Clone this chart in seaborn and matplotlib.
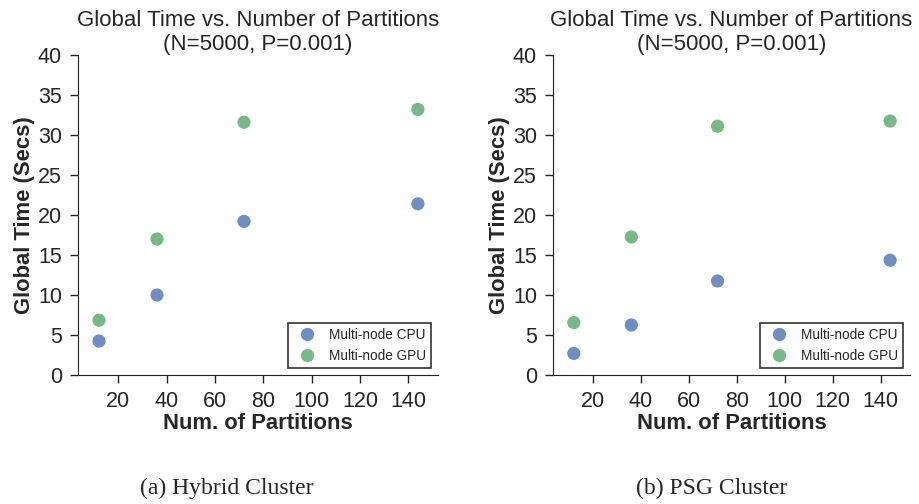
import matplotlib
matplotlib.use("Agg")
import matplotlib.pyplot as plt
import seaborn as sns
import pandas as pd

partitions = [12, 36, 72, 144]
hybrid_cpu = [4.25, 10.0, 19.2, 21.4]
hybrid_gpu = [6.85, 17.0, 31.6, 33.2]
psg_cpu = [2.7, 6.25, 11.75, 14.35]
psg_gpu = [6.55, 17.25, 31.1, 31.75]
series_names = ["Multi-node CPU", "Multi-node GPU"]
captions = ["(a) Hybrid Cluster", "(b) PSG Cluster"]
title = "Global Time vs. Number of Partitions\n(N=5000, P=0.001)"

sns.set_style("ticks")
plt.rcParams['font.family'] = ['Liberation Sans', 'DejaVu Sans']

palette = {series_names[0]: "#4C72B0", series_names[1]: "#55A868"}

fig = plt.figure(figsize=(9.19, 5.04), dpi=100)
axes = [fig.add_axes([78/919, 129/504, 360/919, 320/504]),
        fig.add_axes([553/919, 129/504, 357/919, 320/504])]

datasets = [(hybrid_cpu, hybrid_gpu), (psg_cpu, psg_gpu)]
for ax, (cpu, gpu), cap in zip(axes, datasets, captions):
    df = pd.DataFrame({
        "x": partitions + partitions,
        "y": cpu + gpu,
        "series": [series_names[0]] * len(partitions) + [series_names[1]] * len(partitions),
    })
    sns.scatterplot(data=df, x="x", y="y", hue="series", palette=palette,
                    s=90, alpha=0.8, edgecolor="none", ax=ax)
    ax.set_xlim(3.3, 152.3)
    ax.set_ylim(0, 40)
    ax.set_xticks([20, 40, 60, 80, 100, 120, 140])
    ax.set_yticks(range(0, 41, 5))
    ax.tick_params(labelsize=15.5, length=6, width=1, pad=5.5, direction="out")
    for sp in ["left", "bottom"]:
        ax.spines[sp].set_color("#222222")
    ax.set_xlabel("Num. of Partitions", fontsize=15.8, fontweight="bold", labelpad=1)
    ax.set_ylabel("Global Time (Secs)", fontsize=15.8, fontweight="bold", labelpad=2)
    ax.set_title(title, fontsize=16, pad=2)
    sns.despine(ax=ax)
    leg = ax.legend(loc="lower right", fontsize=9.8, frameon=True, fancybox=False,
                    markerscale=1.0, handletextpad=0.6, borderpad=0.4)
    leg.get_frame().set_edgecolor("black")
    leg.get_frame().set_linewidth(1.2)
    leg.set_title(None)

fig.text(227/919, 1 - 488/504, captions[0], ha="center", va="center",
         fontsize=17, family=["Liberation Serif", "DejaVu Serif"])
fig.text(712/919, 1 - 488/504, captions[1], ha="center", va="center",
         fontsize=17, family=["Liberation Serif", "DejaVu Serif"])

fig.savefig("out.png", dpi=100)
